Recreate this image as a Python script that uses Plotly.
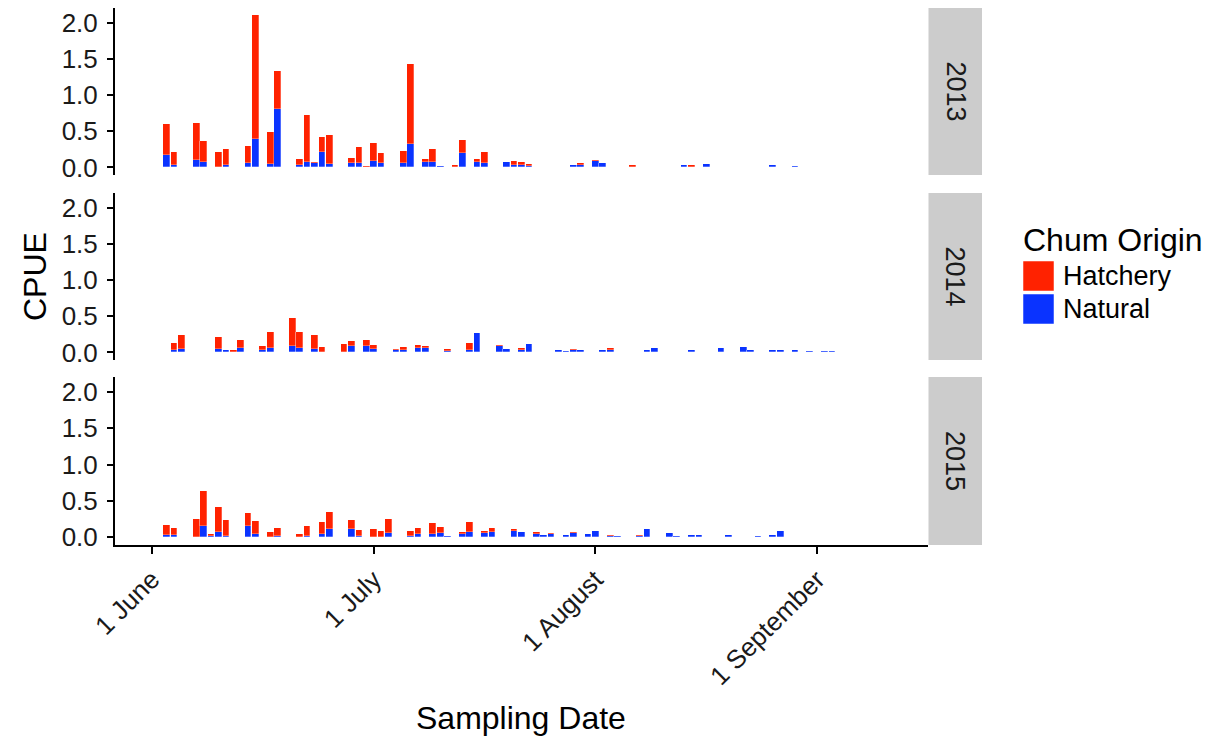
import plotly.graph_objects as go

# ---- data (x = days after 1 June, on the chart's sampling-date axis) ----
days_2013 = [2, 3, 6, 7, 9, 10, 13, 14, 16, 17, 20, 21, 22, 23, 24, 27, 28, 29, 30, 31,
             34, 35, 37, 38, 39, 41, 42, 44, 45, 48, 49, 50, 51, 57, 58, 60, 61, 64, 65, 72,
             73, 75, 80, 84, 87]
natural_2013 = [0.17, 0.03, 0.10, 0.07, 0.0, 0.03, 0.06, 0.39, 0.05, 0.81,
                0.03, 0.07, 0.055, 0.22, 0.046, 0.055, 0.06, 0.01, 0.09, 0.06,
                0.06, 0.32, 0.08, 0.08, 0.015, 0.0, 0.20, 0.07, 0.06, 0.07,
                0.03, 0.03, 0.02, 0.028, 0.035, 0.09, 0.065, 0.0, 0.0, 0.03,
                0.0, 0.045, 0.012, 0.03, 0.018]
hatchery_2013 = [0.43, 0.19, 0.51, 0.30, 0.21, 0.22, 0.23, 1.72, 0.44, 0.53,
                 0.08, 0.65, 0.02, 0.20, 0.40, 0.08, 0.22, 0.01, 0.25, 0.14,
                 0.17, 1.11, 0.04, 0.17, 0.005, 0.03, 0.18, 0.04, 0.16, 0.0,
                 0.06, 0.05, 0.025, 0.0, 0.02, 0.015, 0.0, 0.01, 0.03, 0.0,
                 0.03, 0.0, 0.0, 0.0, 0.0]

days_2014 = [3, 4, 9, 10, 11, 12, 15, 16, 19, 20, 22, 23, 26, 27, 29, 30, 33, 34, 36, 37,
             40, 43, 44, 47, 48, 50, 51, 55, 56, 57, 58, 61, 62, 67, 68, 73, 77, 80, 81, 84,
             85, 87, 89, 91, 92]
natural_2014 = [0.037, 0.05, 0.05, 0.03, 0.0, 0.06, 0.03, 0.06, 0.09, 0.06,
                0.046, 0.01, 0.0, 0.087, 0.087, 0.046, 0.03, 0.04, 0.055, 0.06,
                0.02, 0.037, 0.27, 0.083, 0.05, 0.04, 0.115, 0.04, 0.018, 0.037,
                0.037, 0.03, 0.04, 0.03, 0.055, 0.037, 0.064, 0.07, 0.037, 0.028,
                0.04, 0.03, 0.018, 0.018, 0.018]
hatchery_2014 = [0.087, 0.184, 0.16, 0.0, 0.028, 0.105, 0.06, 0.225, 0.38, 0.225,
                 0.198, 0.068, 0.11, 0.073, 0.088, 0.054, 0.02, 0.038, 0.05, 0.03,
                 0.03, 0.096, 0.0, 0.022, 0.0, 0.02, 0.0, 0.0, 0.0, 0.009,
                 0.0, 0.0, 0.015, 0.0, 0.0, 0.0, 0.0, 0.0, 0.0, 0.0,
                 0.0, 0.0, 0.0, 0.0, 0.0]

days_2015 = [2, 3, 6, 7, 8, 9, 10, 13, 14, 16, 17, 20, 21, 23, 24, 27, 28, 30, 31, 32,
             35, 36, 38, 39, 40, 42, 43, 45, 46, 49, 50, 52, 53, 54, 56, 57, 59, 60, 62, 63,
             66, 67, 70, 71, 73, 74, 77, 78, 82, 84, 85, 88, 89]
natural_2015 = [0.03, 0.03, 0.01, 0.15, 0.025, 0.075, 0.025, 0.16, 0.05, 0.01,
                0.015, 0.0, 0.015, 0.045, 0.115, 0.115, 0.025, 0.01, 0.0, 0.065,
                0.02, 0.04, 0.04, 0.06, 0.02, 0.045, 0.08, 0.06, 0.075, 0.085,
                0.08, 0.05, 0.03, 0.045, 0.03, 0.06, 0.04, 0.085, 0.015, 0.015,
                0.025, 0.11, 0.06, 0.025, 0.03, 0.037, 0.01, 0.037, 0.025, 0.028,
                0.09, 0.01, 0.01]
hatchery_2015 = [0.135, 0.095, 0.24, 0.49, 0.02, 0.345, 0.21, 0.18, 0.18, 0.065,
                 0.11, 0.045, 0.145, 0.17, 0.235, 0.12, 0.07, 0.11, 0.085, 0.185,
                 0.07, 0.095, 0.16, 0.08, 0.0, 0.03, 0.135, 0.03, 0.055, 0.035,
                 0.0, 0.025, 0.0, 0.02, 0.0, 0.015, 0.0, 0.0, 0.013, 0.0,
                 0.012, 0.0, 0.0, 0.0, 0.0, 0.0, 0.0, 0.0, 0.0, 0.0,
                 0.0, 0.0, 0.0]

years = ["2013", "2014", "2015"]
tick_vals = [0, 30, 60, 90]
tick_text = ["1 June", "1 July", "1 August", "1 September"]
y_ticks = [0.0, 0.5, 1.0, 1.5, 2.0]
origins = ["Hatchery", "Natural"]

RED = "#FF2200"
BLUE = "#0A33FF"
FONT = "Liberation Sans, Arial, Helvetica, sans-serif"

panels = [
    (days_2013, natural_2013, hatchery_2013),
    (days_2014, natural_2014, hatchery_2014),
    (days_2015, natural_2015, hatchery_2015),
]

# ---- geometry (reference pixels; the page body adds an 8px offset) ----
OFF = 8
W, H = 1221 - OFF, 741 - OFF
L, T = 115, 8          # plot-area corner in reference pixels
PW, PH = 867, 537      # plot-area size
R = W - (L - OFF) - PW
B = H - (T - OFF) - PH
panel_right_px = 928
panel_px = [(8, 175), (193, 360), (377, 545)]  # top, bottom of each panel


def px_x(p):
    return (p - L) / PW


def px_y(p):
    return (T + PH - p) / PH


fig = go.Figure()

for i, (d, nat, hat) in enumerate(panels):
    ax = "" if i == 0 else str(i + 1)
    fig.add_trace(go.Bar(x=d, y=nat, width=0.9, marker_color=BLUE,
                         marker_line=dict(color="rgba(255,255,255,0.45)", width=0.6),
                         name="Natural", showlegend=False,
                         xaxis="x" + ax, yaxis="y" + ax))
    fig.add_trace(go.Bar(x=d, y=hat, width=0.9, marker_color=RED,
                         marker_line=dict(color="rgba(255,255,255,0.45)", width=0.6),
                         name="Hatchery", showlegend=False,
                         xaxis="x" + ax, yaxis="y" + ax))

xdom = [0, px_x(panel_right_px)]
layout = dict(
    width=W, height=H,
    margin=dict(l=L - OFF, r=R, t=T - OFF, b=B, pad=0),
    paper_bgcolor="white", plot_bgcolor="white",
    barmode="stack", bargap=0,
    font=dict(family=FONT, color="#1a1a1a"),
    showlegend=False,
)

for i in range(3):
    ax = "" if i == 0 else str(i + 1)
    top, bot = panel_px[i]
    is_bottom = (i == 2)
    layout["xaxis" + ax] = dict(
        domain=xdom, anchor="y" + ax, range=[-5, 105],
        showgrid=False, zeroline=False,
        showline=is_bottom, linecolor="black", linewidth=2,
        ticks="outside" if is_bottom else "", ticklen=7, tickwidth=2, tickcolor="black",
        tickvals=tick_vals, ticktext=tick_text, showticklabels=is_bottom,
        tickangle=-45, tickfont=dict(size=26, family=FONT, color="#1a1a1a"),
        matches=None if i == 0 else "x",
    )
    layout["yaxis" + ax] = dict(
        domain=[px_y(bot), px_y(top)], anchor="x" + ax,
        range=[-0.105, 2.205], showgrid=False, zeroline=False,
        showline=True, linecolor="black", linewidth=2,
        ticks="outside", ticklen=6, tickwidth=2, tickcolor="black",
        tickvals=y_ticks, ticktext=["%.1f" % v for v in y_ticks],
        tickfont=dict(size=26, family=FONT, color="#1a1a1a"),
        ticklabeloverflow="allow", ticklabelstandoff=4,
    )

fig.update_layout(**layout)

shapes = []
annotations = []
# facet strips
for i, yr in enumerate(years):
    top, bot = panel_px[i]
    shapes.append(dict(type="rect", xref="paper", yref="paper",
                       x0=px_x(928.5), x1=px_x(982), y0=px_y(bot), y1=px_y(top),
                       fillcolor="#CCCCCC", line=dict(width=0), layer="below"))
    annotations.append(dict(xref="paper", yref="paper", x=px_x(955), y=px_y((top + bot) / 2),
                            text=yr, textangle=90, showarrow=False,
                            font=dict(size=27, family=FONT, color="#1a1a1a"),
                            xanchor="center", yanchor="middle"))

# axis titles
annotations.append(dict(xref="paper", yref="paper", x=px_x(521), y=px_y(718),
                        text="Sampling Date", showarrow=False,
                        font=dict(size=32, family=FONT, color="black"),
                        xanchor="center", yanchor="middle"))
annotations.append(dict(xref="paper", yref="paper", x=px_x(35), y=px_y(277),
                        text="CPUE", textangle=-90, showarrow=False,
                        font=dict(size=32, family=FONT, color="black"),
                        xanchor="center", yanchor="middle"))

# legend (drawn manually, ggplot style)
annotations.append(dict(xref="paper", yref="paper", x=px_x(1021), y=px_y(240),
                        text="Chum Origin", showarrow=False,
                        font=dict(size=32, family=FONT, color="black"),
                        xanchor="left", yanchor="middle"))
leg_colors = {"Hatchery": RED, "Natural": BLUE}
for j, name in enumerate(origins):
    y0 = 261 + j * 33
    shapes.append(dict(type="rect", xref="paper", yref="paper",
                       x0=px_x(1023), x1=px_x(1054), y0=px_y(y0 + 30), y1=px_y(y0),
                       fillcolor=leg_colors[name],
                       line=dict(color="rgba(255,255,255,0.5)", width=1)))
    annotations.append(dict(xref="paper", yref="paper", x=px_x(1061), y=px_y(y0 + 15),
                            text=name, showarrow=False,
                            font=dict(size=27, family=FONT, color="black"),
                            xanchor="left", yanchor="middle"))

fig.update_layout(shapes=shapes, annotations=annotations)

fig.write_html("out.html")
